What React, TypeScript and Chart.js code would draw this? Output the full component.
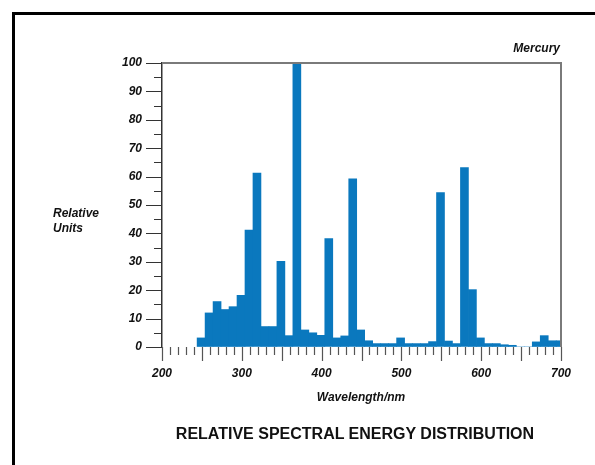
import React, { useEffect, useRef } from 'react';
import { Chart, registerables } from 'chart.js';

Chart.register(...registerables);

// Bin centres (nm), 10 nm wide bins
const wavelengths = [
  249, 259, 269, 279, 289, 299, 309, 319, 329, 339,
  349, 359, 369, 379, 389, 399, 409, 419, 429, 439,
  449, 459, 469, 479, 489, 499, 509, 519, 529, 539,
  549, 559, 569, 579, 589, 599, 609, 619, 629, 639,
  649, 659, 669, 679, 689, 699,
];

// Relative units per bin
const relativeUnits = [
  3.2, 12, 16, 13.2, 14.2, 18.2, 41.2, 61.2, 7.2, 7.2,
  30.2, 4, 100, 6, 5, 4.1, 38.2, 3.2, 3.9, 59.2,
  6, 2.2, 1.2, 1.2, 1.2, 3.2, 1.2, 1.2, 1.2, 1.9,
  54.4, 2.1, 1.2, 63.2, 20.2, 3.2, 1.2, 1.2, 0.8, 0.6,
  0, 0, 1.8, 4, 2.2, 2.2,
];

const xTickLabels = [200, 300, 400, 500, 600, 700];
const yTickLabels = [0, 10, 20, 30, 40, 50, 60, 70, 80, 90, 100];

const seriesName = 'Mercury';
const yTitle = ['Relative', 'Units'];
const xTitle = 'Wavelength/nm';
const chartTitle = 'RELATIVE SPECTRAL ENERGY DISTRIBUTION';

const FONT = "'Liberation Sans', Arial, Helvetica, sans-serif";

const frameAndTicks = {
  id: 'frameAndTicks',
  afterDraw(chart: any) {
    const { ctx, chartArea: a, scales } = chart;
    const x = scales.x;
    const y = scales.y;
    ctx.save();
    // top & right frame
    ctx.strokeStyle = '#7a7a7a';
    ctx.lineWidth = 2;
    ctx.beginPath();
    ctx.moveTo(a.left, a.top);
    ctx.lineTo(a.right, a.top);
    ctx.lineTo(a.right, a.bottom);
    ctx.stroke();
    // x ticks: long every 50 nm, short every 10 nm
    ctx.strokeStyle = '#555';
    ctx.lineWidth = 1.2;
    ctx.beginPath();
    x.ticks.forEach((t: any) => {
      const px = Math.round(x.getPixelForValue(t.value)) + 0.5;
      const len = t.value % 50 === 0 ? 14 : 8;
      ctx.moveTo(px, a.bottom);
      ctx.lineTo(px, a.bottom + len);
    });
    ctx.stroke();
    // y ticks: long every 10, short every 5
    ctx.strokeStyle = '#333';
    ctx.beginPath();
    y.ticks.forEach((t: any) => {
      const py = Math.round(y.getPixelForValue(t.value)) + 0.5;
      const len = t.value % 10 === 0 ? 16 : 8;
      ctx.moveTo(a.left - len, py);
      ctx.lineTo(a.left, py);
    });
    ctx.stroke();
    ctx.restore();
  },
};

export default function App() {
  const canvasRef = useRef<HTMLCanvasElement | null>(null);

  useEffect(() => {
    const canvas = canvasRef.current;
    if (!canvas) return;
    const chart = new Chart(canvas, {
      type: 'bar',
      data: {
        datasets: [
          {
            label: seriesName,
            data: wavelengths.map((w, i) => ({ x: w, y: relativeUnits[i] })),
            backgroundColor: '#0a78be',
            borderWidth: 0,
            barPercentage: 1,
            categoryPercentage: 1,
          },
        ],
      },
      options: {
        responsive: false,
        maintainAspectRatio: false,
        animation: false,
        layout: { padding: { top: 63, right: 34, bottom: 0, left: 0 } },
        plugins: {
          legend: { display: false },
          tooltip: { enabled: false },
          title: { display: false },
        },
        scales: {
          x: {
            type: 'linear',
            min: 200,
            max: 700,
            offset: false,
            afterFit: (s: any) => {
              s.height = 118;
            },
            grid: {
              display: true,
              drawOnChartArea: false,
              drawTicks: true,
              tickLength: 14,
              tickColor: 'rgba(0,0,0,0)',
            },
            border: { display: false },
            ticks: {
              stepSize: 10,
              autoSkip: false,
              maxRotation: 0,
              minRotation: 0,
              padding: 5,
              color: '#111',
              font: { family: FONT, size: 12, style: 'italic', weight: 'bold' },
              callback: (v: any) => (xTickLabels.includes(Number(v)) ? String(v) : ''),
            },
          },
          y: {
            type: 'linear',
            min: 0,
            max: 100,
            afterFit: (s: any) => {
              s.width = 162;
            },
            grid: {
              display: true,
              drawOnChartArea: false,
              drawTicks: true,
              tickLength: 16,
              tickColor: 'rgba(0,0,0,0)',
            },
            border: { display: true, color: '#333', width: 1.5 },
            ticks: {
              stepSize: 5,
              autoSkip: false,
              padding: 4,
              color: '#111',
              font: { family: FONT, size: 12, style: 'italic', weight: 'bold' },
              callback: (v: any) => (yTickLabels.includes(Number(v)) ? String(v) : ''),
            },
          },
        },
      },
      plugins: [frameAndTicks],
    } as any);
    return () => chart.destroy();
  }, []);

  const italicLabel: React.CSSProperties = {
    position: 'absolute',
    fontFamily: FONT,
    fontStyle: 'italic',
    fontWeight: 'bold',
    fontSize: 12,
    lineHeight: '15px',
    color: '#111',
    whiteSpace: 'nowrap',
  };

  return (
    <div
      style={{
        position: 'fixed',
        left: 0,
        top: 0,
        width: 595,
        height: 465,
        overflow: 'hidden',
        background: '#fff',
      }}
    >
      <div
        style={{
          position: 'absolute',
          left: 12,
          top: 12,
          width: 700,
          height: 600,
          border: '3px solid #000',
          boxSizing: 'border-box',
        }}
      />
      <canvas
        ref={canvasRef}
        width={595}
        height={465}
        style={{ position: 'absolute', left: 0, top: 0, width: 595, height: 465 }}
      />
      <div style={{ ...italicLabel, right: 35, top: 41 }}>{seriesName}</div>
      <div style={{ ...italicLabel, left: 53, top: 206 }}>
        {yTitle[0]}
        <br />
        {yTitle[1]}
      </div>
      <div style={{ ...italicLabel, left: 161, width: 400, textAlign: 'center', top: 390 }}>
        {xTitle}
      </div>
      <div
        style={{
          position: 'absolute',
          left: 155,
          width: 400,
          top: 424,
          textAlign: 'center',
          fontFamily: FONT,
          fontWeight: 'bold',
          fontSize: 16,
          lineHeight: '19px',
          color: '#111',
          whiteSpace: 'nowrap',
        }}
      >
        {chartTitle}
      </div>
    </div>
  );
}
